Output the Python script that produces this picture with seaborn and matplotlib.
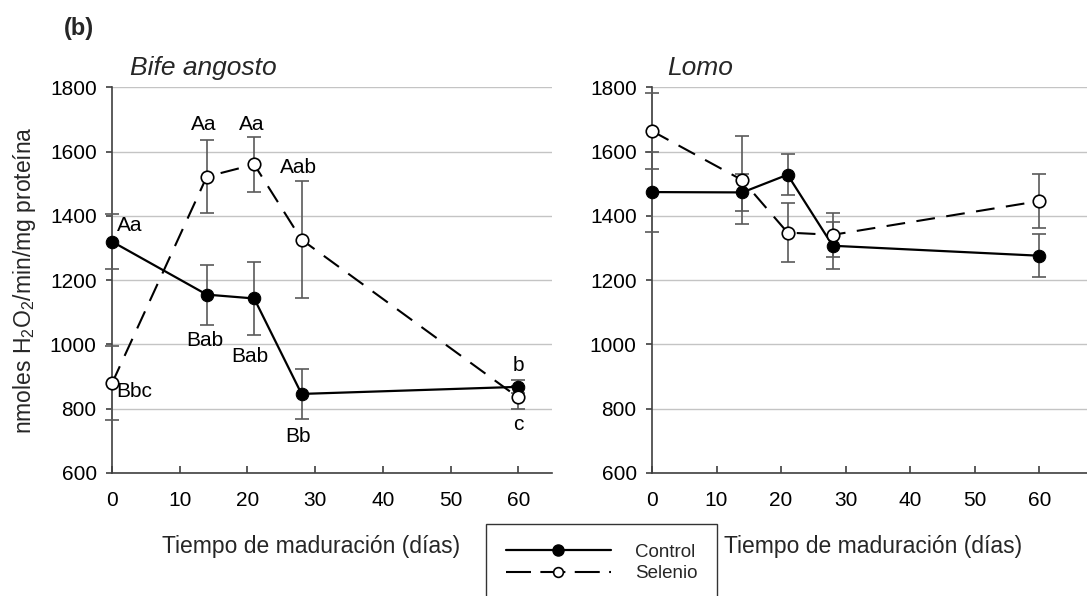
import numpy as np
import pandas as pd
import matplotlib
matplotlib.use("Agg")
import matplotlib.pyplot as plt
from matplotlib.lines import Line2D
import seaborn as sns

# ---------------- data ----------------
days = [0, 14, 21, 28, 60]

bife_control = [1320, 1155, 1143, 846, 868]
bife_control_err = [86, 93, 113, 79, 20]
bife_selenio = [879, 1522, 1560, 1326, 835]
bife_selenio_err = [115, 113, 85, 182, 35]

lomo_control = [1474, 1473, 1528, 1307, 1276]
lomo_control_err = [125, 58, 63, 73, 67]
lomo_selenio = [1664, 1511, 1348, 1341, 1446]
lomo_selenio_err = [117, 136, 92, 69, 84]

# significance letters for "Bife angosto": (label, day, value position)
bife_labels = ["Aa", "Bbc", "Aa", "Aa", "Aab", "Bab", "Bab", "Bb", "b", "c"]
bife_label_x = [0.7, 0.6, 13.5, 20.6, 27.6, 13.7, 20.4, 27.5, 60, 60]
bife_label_y = [1369, 853, 1683, 1683, 1551, 1011, 961, 715, 936, 752]
bife_label_ha = ["left", "left", "center", "center", "center", "center",
                 "center", "center", "center", "center"]

panel_titles = ["Bife angosto", "Lomo"]
series_names = ["Control", "Selenio"]
yticks = [600, 800, 1000, 1200, 1400, 1600, 1800]
xticks = [0, 10, 20, 30, 40, 50, 60]
xlabel = "Tiempo de maduración (días)"
ylabel = "nmoles H$_2$O$_2$/min/mg proteína"

# ---------------- style ----------------
sns.set_theme(style="white")
plt.rcParams["font.family"] = ["Liberation Sans", "DejaVu Sans"]
plt.rcParams["mathtext.fontset"] = "custom"
plt.rcParams["mathtext.rm"] = "Liberation Sans"
plt.rcParams["mathtext.it"] = "Liberation Sans:italic"
plt.rcParams["mathtext.bf"] = "Liberation Sans:bold"

W, H = 1087, 596
fig = plt.figure(figsize=(W / 100, H / 100), dpi=100)
fig.patch.set_facecolor("white")

ax_left = fig.add_axes([112 / W, 1 - 473 / H, (552 - 112) / W, (473 - 87.3) / H])
ax_right = fig.add_axes([652 / W, 1 - 473 / H, (1087 - 652) / W, (473 - 87.3) / H])

axis_color = "#404040"
grid_color = "#c4c4c4"
err_color = "#5a5a5a"
dash_pat = (0, (9, 5.5))


def draw_panel(ax, ctrl, ctrl_err, sel, sel_err, xmax):
    df_c = pd.DataFrame({"dia": days, "valor": ctrl})
    df_s = pd.DataFrame({"dia": days, "valor": sel})
    for vals, errs in ((ctrl, ctrl_err), (sel, sel_err)):
        eb = ax.errorbar(days, vals, yerr=errs, fmt="none", ecolor=err_color,
                         elinewidth=1.2, capsize=5, capthick=1.2, zorder=3)
        for art in eb.lines[1] + eb.lines[2]:
            art.set_clip_on(False)
    sns.lineplot(data=df_c, x="dia", y="valor", ax=ax, sort=False,
                 errorbar=None, color="black", linewidth=1.6,
                 marker="o", markersize=9, markerfacecolor="black",
                 markeredgecolor="black", zorder=4, clip_on=False)
    sns.lineplot(data=df_s, x="dia", y="valor", ax=ax, sort=False,
                 errorbar=None, color="black", linewidth=1.5,
                 linestyle=dash_pat, marker="o", markersize=9,
                 markerfacecolor="white", markeredgecolor="black",
                 markeredgewidth=1.2, zorder=5, clip_on=False)
    ax.set_xlim(0, xmax)
    ax.set_ylim(600, 1800)
    ax.set_yticks(yticks)
    ax.set_xticks(xticks)
    ax.set_xlabel("")
    ax.set_ylabel("")
    for sp in ["top", "right"]:
        ax.spines[sp].set_visible(False)
    for sp in ["left", "bottom"]:
        ax.spines[sp].set_color(axis_color)
        ax.spines[sp].set_linewidth(1.2)
    ax.yaxis.grid(True, color=grid_color, linewidth=1.0)
    ax.xaxis.grid(False)
    ax.set_axisbelow(True)
    ax.tick_params(axis="y", direction="out", length=4, width=1.2,
                   color=axis_color, labelsize=15, pad=7, left=True)
    ax.tick_params(axis="x", direction="in", length=5, width=1.2,
                   color=axis_color, labelsize=15, pad=13, bottom=True)
    for lab in ax.get_xticklabels() + ax.get_yticklabels():
        lab.set_color("black")


draw_panel(ax_left, bife_control, bife_control_err, bife_selenio,
           bife_selenio_err, (552 - 112) / 6.77)
draw_panel(ax_right, lomo_control, lomo_control_err, lomo_selenio,
           lomo_selenio_err, (1087 - 652) / 6.455)

# letters
for lab, x, y, ha in zip(bife_labels, bife_label_x, bife_label_y, bife_label_ha):
    ax_left.text(x, y, lab, ha=ha, va="center", fontsize=15, color="black",
                 zorder=6)

# titles
ax_left.text(18 / 440, (473 - 75) / 385.7, panel_titles[0], transform=ax_left.transAxes,
             fontsize=19, fontstyle="italic", ha="left", va="baseline")
ax_right.text(15 / 435, (473 - 75) / 385.7, panel_titles[1], transform=ax_right.transAxes,
              fontsize=19, fontstyle="italic", ha="left", va="baseline")

# axis labels
ax_left.set_xlabel(xlabel, fontsize=16.5)
ax_left.xaxis.set_label_coords((311 - 112) / 440, (473 - 535) / 385.7)
ax_right.set_xlabel(xlabel, fontsize=16.5)
ax_right.xaxis.set_label_coords((873 - 652) / 435, (473 - 535) / 385.7)
ax_left.set_ylabel(ylabel, fontsize=16.5)
ax_left.yaxis.set_label_coords((38 - 112) / 440, (473 - 280) / 385.7)

# panel tag
fig.text(64 / W, 1 - 35 / H, "(b)", fontsize=17, fontweight="bold",
         ha="left", va="baseline")

# legend
handles = [
    Line2D([0], [0], color="black", linewidth=1.6, marker="o", markersize=8,
           markerfacecolor="black", markeredgecolor="black"),
    Line2D([0], [0], color="black", linewidth=1.5, linestyle=(0, (12, 4.5)),
           marker="o", markersize=7, markerfacecolor="white",
           markeredgecolor="black", markeredgewidth=1.2),
]
leg = fig.legend(handles, series_names, loc="upper left",
                 bbox_to_anchor=(486 / W, 1 - 524 / H), frameon=True,
                 fancybox=False, edgecolor="black", fontsize=13.5,
                 handlelength=5.6, handletextpad=1.3, borderpad=1.05,
                 labelspacing=0.22, borderaxespad=0)
leg.get_frame().set_linewidth(1.0)

fig.savefig("out.png", dpi=100, facecolor="white")
